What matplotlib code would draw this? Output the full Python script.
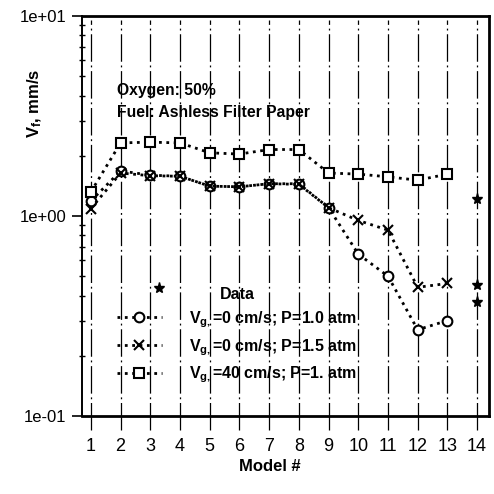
import numpy as np
import matplotlib
matplotlib.use("Agg")
import matplotlib.pyplot as plt

plt.rcParams["font.family"] = ["Liberation Sans", "DejaVu Sans"]
plt.rcParams["mathtext.fontset"] = "custom"
plt.rcParams["mathtext.rm"] = "Liberation Sans:bold"
plt.rcParams["mathtext.it"] = "Liberation Sans:bold"
plt.rcParams["mathtext.bf"] = "Liberation Sans:bold"

# data
models = [1, 2, 3, 4, 5, 6, 7, 8, 9, 10, 11, 12, 13]
v_p10 = [1.19, 1.68, 1.60, 1.58, 1.41, 1.40, 1.45, 1.45, 1.10, 0.645, 0.50, 0.27, 0.30]
v_p15 = [1.09, 1.64, 1.59, 1.58, 1.41, 1.40, 1.45, 1.44, 1.10, 0.95, 0.85, 0.44, 0.46]
v_40 = [1.32, 2.32, 2.34, 2.32, 2.07, 2.04, 2.15, 2.15, 1.64, 1.62, 1.57, 1.51, 1.62]
star_x = [14, 14, 14, 3.3]
star_y = [1.22, 0.45, 0.37, 0.437]
x_ticks = list(range(1, 15))
y_ticks = [0.1, 1.0, 10.0]
y_tick_labels = ["1e-01", "1e+00", "1e+01"]
labels = [r"$V_{g,}$=0 cm/s; P=1.0 atm",
          r"$V_{g,}$=0 cm/s; P=1.5 atm",
          r"$V_{g,}$=40 cm/s; P=1. atm"]

W, H = 494, 494
fig = plt.figure(figsize=(W / 100, H / 100), dpi=100)
ax = fig.add_axes([82 / W, 1 - 416 / H, (489 - 82) / W, (416 - 16) / H])
ax.set_yscale("log")

# vertical grid lines that run a bit below the frame
ax.vlines(x_ticks, -0.035, 0.99, transform=ax.get_xaxis_transform(),
          colors="black", linewidth=0.9, linestyles=(0, (22, 3, 1.5, 3)),
          clip_on=False, zorder=1)

line_kw = dict(color="black", linestyle=":", linewidth=2.0, markersize=7,
               markeredgewidth=1.5, markerfacecolor="white", zorder=3)
h1, = ax.plot(models, v_p10, marker="o", label=labels[0], **line_kw)
h2, = ax.plot(models, v_p15, marker="x", label=labels[1], **line_kw)
h3, = ax.plot(models, v_40, marker="s", label=labels[2], **line_kw)
ax.plot(star_x, star_y, linestyle="none", marker="*", color="black",
        markersize=8, zorder=3)

ax.set_xlim(0.70, 14.40)
ax.set_ylim(0.1, 10)
ax.set_xticks(x_ticks)
ax.set_xticklabels([str(x) for x in x_ticks], fontsize=13)
ax.set_yticks(y_ticks)
ax.set_yticklabels(y_tick_labels, fontsize=12)
ax.tick_params(axis="x", length=0, pad=16)
ax.tick_params(axis="y", which="major", length=7, width=1.2, pad=4)
ax.tick_params(axis="y", which="minor", length=4, width=1.0, direction="inout",
               labelleft=False)

for side, lw in [("top", 2.0), ("right", 2.0), ("bottom", 2.0), ("left", 1.4)]:
    ax.spines[side].set_linewidth(lw)

fig.text(35 / W, 1 - 103 / H, r"$V_f$, mm/s", rotation=90, fontsize=12,
         fontweight="bold", ha="center", va="center")
fig.text(270 / W, 1 - 466 / H, "Model #", fontsize=12, fontweight="bold",
         ha="center", va="center")
fig.text(117 / W, 1 - 91 / H, "Oxygen: 50%", fontsize=11.3, fontweight="bold",
         ha="left", va="center")
fig.text(117 / W, 1 - 112 / H, "Fuel: Ashless Filter Paper", fontsize=11.3,
         fontweight="bold", ha="left", va="center")

leg = ax.legend(handles=[h1, h2, h3], title="Data", loc="upper left",
                bbox_to_anchor=(117 / W, 1 - 287 / H),
                bbox_transform=fig.transFigure, frameon=False,
                borderpad=0, borderaxespad=0, handlelength=2.8,
                handletextpad=1.7, labelspacing=0.45,
                prop={"weight": "bold", "size": 11.5},
                title_fontproperties={"weight": "bold", "size": 11.5})

fig.savefig("out.png", dpi=100)
